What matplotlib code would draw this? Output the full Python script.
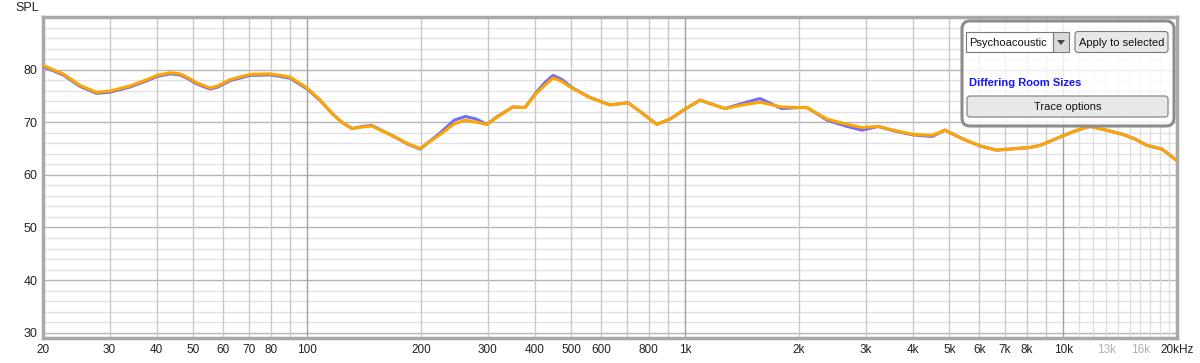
import numpy as np
import matplotlib.pyplot as plt
from matplotlib.patches import FancyBboxPatch, Rectangle, Polygon

plt.rcParams['font.family'] = ['Liberation Sans', 'DejaVu Sans']

# frequency response (Hz, dB SPL)
freq = [20, 22.6, 25.1, 27.7, 30, 34, 38, 40, 43.4, 46, 48, 51, 55.3, 58, 62.5,
        70.6, 79.7, 90, 100, 108, 117, 124, 131.5, 140, 148, 168.6, 185, 199,
        212, 225, 245, 262, 280, 299, 320, 350, 377, 405, 425, 447, 470, 504,
        560, 632, 670, 706, 764, 841, 912, 1000, 1094, 1180, 1274, 1420, 1577,
        1800, 2012, 2100, 2372, 2680, 2936, 3237, 3600, 4006, 4500, 4866, 5433,
        6026, 6680, 7500, 8170, 8680, 9900, 10800, 11770, 13000, 14380, 15500,
        16660, 18250, 20000]
spl_orange = [80.8, 79.2, 77.0, 75.7, 75.9, 76.9, 78.2, 78.9, 79.4, 79.2, 78.6,
              77.5, 76.5, 76.9, 78.1, 79.1, 79.2, 78.6, 76.5, 74.3, 71.5, 69.9,
              68.8, 69.1, 69.3, 67.4, 65.9, 65.0, 66.4, 67.7, 69.7, 70.4, 70.0,
              69.6, 71.1, 72.9, 72.8, 75.6, 77.0, 78.4, 77.8, 76.4, 74.7, 73.3,
              73.5, 73.7, 71.9, 69.6, 70.6, 72.5, 74.2, 73.4, 72.6, 73.3, 73.8,
              72.9, 72.8, 72.8, 70.6, 69.6, 69.0, 69.2, 68.4, 67.7, 67.5, 68.5,
              66.8, 65.5, 64.7, 65.0, 65.2, 65.6, 67.3, 68.4, 69.2, 68.5, 67.7,
              66.8, 65.6, 64.9, 62.7]
spl_blue = [80.6, 79.0, 76.8, 75.5, 75.7, 76.7, 78.0, 78.7, 79.2, 79.0, 78.4,
            77.3, 76.3, 76.7, 77.9, 78.9, 79.0, 78.4, 76.3, 74.2, 71.5, 69.9,
            68.8, 69.2, 69.4, 67.4, 65.8, 64.9, 66.5, 68.0, 70.4, 71.1, 70.6,
            69.6, 71.2, 72.9, 72.8, 75.8, 77.5, 78.9, 78.2, 76.5, 74.7, 73.3,
            73.5, 73.7, 71.9, 69.6, 70.6, 72.5, 74.2, 73.4, 72.6, 73.6, 74.5,
            72.6, 72.8, 72.8, 70.4, 69.2, 68.5, 69.2, 68.3, 67.6, 67.3, 68.5,
            66.8, 65.5, 64.7, 65.0, 65.2, 65.6, 67.3, 68.4, 69.2, 68.5, 67.7,
            66.8, 65.6, 64.9, 62.7]

xtick_vals = [20, 30, 40, 50, 60, 70, 80, 100, 200, 300, 400, 500, 600, 800,
              1000, 2000, 3000, 4000, 5000, 6000, 7000, 8000, 10000, 13000,
              16000, 20000]
xtick_text = ['20', '30', '40', '50', '60', '70', '80', '100', '200', '300',
              '400', '500', '600', '800', '1k', '2k', '3k', '4k', '5k', '6k',
              '7k', '8k', '10k', '13k', '16k', '20kHz']
ytick_vals = [30, 40, 50, 60, 70, 80]

fig = plt.figure(figsize=(12, 3.63), dpi=100)
ax = fig.add_axes([43/1200, 1 - 338/363, 1134/1200, 321/363])
ax.set_xscale('log')
ax.set_xlim(20, 20000)
ax.set_ylim(29, 90)

# grid
for d in range(30, 90, 2):
    ax.axhline(d, color='#b4b4b4' if d % 10 == 0 else '#e2e2e2', lw=1, zorder=0)
for dec in [10, 100, 1000, 10000]:
    for m in range(1, 10):
        f = dec * m
        if f < 20 or f > 20000:
            continue
        ax.axvline(f, color='#a0a0a0' if m == 1 else '#c8c8c8', lw=1, zorder=0)
for f in range(11000, 20000, 1000):
    ax.axvline(f, color='#dedede', lw=1, zorder=0)

ax.plot(freq, spl_blue, color='#6e6eff', lw=2.2, zorder=3,
        solid_capstyle='round', solid_joinstyle='round')
ax.plot(freq, spl_orange, color='#ffa500', lw=2.2, zorder=4,
        solid_capstyle='round', solid_joinstyle='round')

ax.set_xticks(xtick_vals)
ax.set_xticklabels(xtick_text, fontsize=8.5, color='#222222')
ax.xaxis.set_minor_locator(plt.NullLocator())
for lab in ax.get_xticklabels():
    if lab.get_text() in ('13k', '16k'):
        lab.set_color('#b0b0b0')
ax.set_yticks(ytick_vals)
ax.set_yticklabels([str(v) for v in ytick_vals], fontsize=9, color='#222222')
ax.tick_params(length=0, pad=4)
for s in ax.spines.values():
    s.set_color('#a8a8a8')
    s.set_linewidth(2.5)

fig.text(15/1200, 1 - 8/363, 'SPL', fontsize=9, va='center', ha='left', color='#222222')

# control panel overlay
ov = fig.add_axes([0, 0, 1, 1], facecolor='none')
ov.set_xlim(0, 1200)
ov.set_ylim(363, 0)
ov.axis('off')
ov.add_patch(FancyBboxPatch((962, 21), 212, 105, boxstyle='round,pad=0,rounding_size=8',
                            fc=(1, 1, 1, 0.8), ec='#8c8c8c', lw=2.2))
ov.add_patch(Rectangle((966, 32), 87, 20, fc='white', ec='#7a7a7a', lw=0.8))
ov.add_patch(Rectangle((1053, 32), 16, 20, fc='#d9d9d9', ec='#7a7a7a', lw=0.8))
ov.add_patch(Polygon([(1057, 40), (1065, 40), (1061, 45)], closed=True, fc='#444444', ec='none'))
ov.text(969, 42.5, 'Psychoacoustic', fontsize=8, va='center', ha='left', color='#111111')
ov.add_patch(FancyBboxPatch((1075, 31.5), 93, 21, boxstyle='round,pad=0,rounding_size=3',
                            fc='#e8e8e8', ec='#7a7a7a', lw=0.8))
ov.text(1121.5, 42.5, 'Apply to selected', fontsize=8, va='center', ha='center', color='#111111')
ov.text(969, 83, 'Differing Room Sizes', fontsize=8, va='center', ha='left',
        color='#1414ff', fontweight='bold')
ov.add_patch(FancyBboxPatch((967, 96), 201, 21, boxstyle='round,pad=0,rounding_size=3',
                            fc='#e8e8e8', ec='#7a7a7a', lw=0.8))
ov.text(1067.5, 106.5, 'Trace options', fontsize=8, va='center', ha='center', color='#111111')

fig.savefig('out.png', dpi=100)
